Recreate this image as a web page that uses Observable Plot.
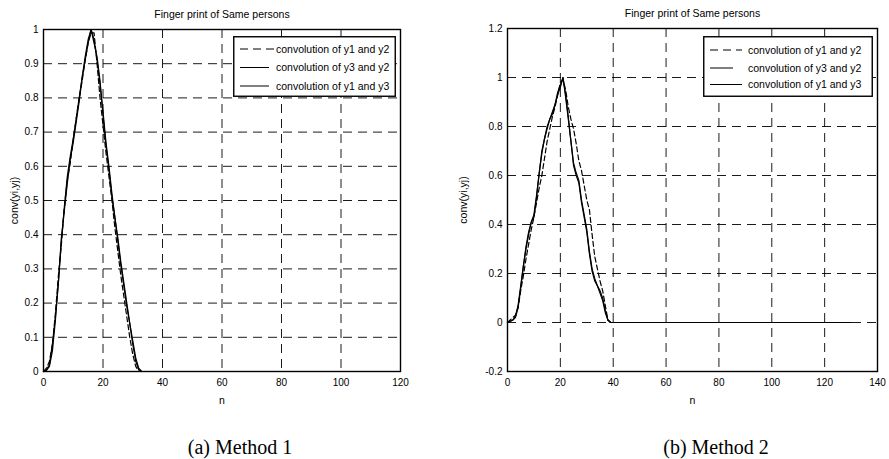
<!DOCTYPE html>
<html><head><meta charset="utf-8">
<script src="https://cdn.jsdelivr.net/npm/d3@7"></script>
<script src="https://cdn.jsdelivr.net/npm/@observablehq/plot@0.6"></script>
<style>
body{margin:0;background:#fff;}
#wrap{position:relative;width:889px;height:459px;overflow:hidden;background:#fff;}
.panel{position:absolute;top:0;}
.legend{position:absolute;}
.caption{position:absolute;font-family:"Liberation Serif","Times New Roman",serif;font-size:20px;color:#000;transform:translate(-50%,-50%);white-space:nowrap;}
</style></head>
<body><div id="wrap"></div>
<script>
// ---------- data ----------
const chartTitle = "Finger print of Same persons";
const xLabel = "n";
const yLabel = "conv(yi,yj)";
const seriesNames = ["convolution of y1 and y2", "convolution of y3 and y2", "convolution of y1 and y3"];
const captions = ["(a) Method 1", "(b) Method 2"];

// Method 1
const xTicksA = [0, 20, 40, 60, 80, 100, 120];
const yTicksA = [0, 0.1, 0.2, 0.3, 0.4, 0.5, 0.6, 0.7, 0.8, 0.9, 1];
const nA = [0,1,2,3,4,5,6,7,8,9,10,11,12,13,14,15,16,17,18,19,20,21,22,23,24,25,26,27,28,29,30,31,32,33,115];
const a_y1y2 = [0,0.01,0.03,0.08,0.17,0.28,0.37,0.48,0.56,0.61,0.68,0.74,0.8,0.85,0.91,0.96,0.99,0.99,0.9,0.8,0.72,0.64,0.57,0.5,0.42,0.35,0.28,0.22,0.16,0.1,0.05,0.015,0,0,0];
const a_y3y2 = [0,0.005,0.02,0.08,0.16,0.26,0.39,0.47,0.55,0.62,0.67,0.73,0.79,0.86,0.92,0.97,1.0,0.96,0.92,0.85,0.75,0.66,0.59,0.51,0.45,0.38,0.31,0.25,0.19,0.14,0.08,0.03,0.005,0,0];
const a_y1y3 = [0,0.003,0.015,0.06,0.15,0.26,0.38,0.48,0.57,0.63,0.68,0.74,0.8,0.86,0.91,0.96,1.0,0.97,0.91,0.84,0.76,0.67,0.6,0.52,0.45,0.39,0.32,0.26,0.2,0.14,0.09,0.04,0.01,0,0];

// Method 2
const xTicksB = [0, 20, 40, 60, 80, 100, 120, 140];
const yTicksB = [-0.2, 0, 0.2, 0.4, 0.6, 0.8, 1, 1.2];
const nB = [0,1,2,3,4,5,6,7,8,9,10,11,12,13,14,15,16,17,18,19,20,21,22,23,24,25,26,27,28,29,30,31,32,33,34,35,36,37,38,39,130];
const b_y1y2 = [0,0.01,0.02,0.03,0.06,0.13,0.19,0.26,0.32,0.38,0.43,0.49,0.55,0.6,0.67,0.74,0.79,0.84,0.88,0.93,0.98,0.99,0.95,0.88,0.83,0.79,0.73,0.66,0.62,0.56,0.5,0.46,0.36,0.27,0.22,0.17,0.13,0.07,0.01,0,0];
const b_y3y2 = [0,0.005,0.01,0.02,0.06,0.14,0.23,0.3,0.36,0.41,0.43,0.51,0.61,0.69,0.75,0.79,0.83,0.85,0.89,0.93,0.96,1.0,0.93,0.84,0.74,0.65,0.61,0.58,0.5,0.44,0.38,0.29,0.22,0.18,0.15,0.13,0.1,0.05,0.01,0,0];
const b_y1y3 = [0,0.004,0.01,0.025,0.07,0.15,0.23,0.31,0.37,0.41,0.44,0.52,0.61,0.7,0.75,0.8,0.83,0.86,0.89,0.94,0.97,1.0,0.92,0.83,0.74,0.64,0.6,0.57,0.49,0.43,0.37,0.28,0.21,0.17,0.15,0.12,0.09,0.04,0.01,0,0];

// ---------- build ----------
const wrap = document.getElementById("wrap");
const font = '"Liberation Sans", Arial, Helvetica, sans-serif';
const dashes = ["5,3", null, null];

function rows(ns, ys) { return ns.map((n, i) => ({n, v: ys[i]})); }
const fmt = d => String(+d.toFixed(1));

function panel({left, width, marginLeft, marginRight, marginTop, xDomain, yDomain, xTicks, yTicks, series, ylabDx}) {
  const marks = [
    Plot.gridX(xTicks, {stroke: "black", strokeOpacity: 1, strokeWidth: 0.9, strokeDasharray: "9,6"}),
    Plot.gridY(yTicks, {stroke: "black", strokeOpacity: 1, strokeWidth: 0.9, strokeDasharray: "9,6"})
  ];
  series.forEach((s, i) => {
    marks.push(Plot.line(s, {x: "n", y: "v", stroke: "black", strokeWidth: 1.2, strokeDasharray: dashes[i] || undefined, curve: "linear"}));
  });
  marks.push(Plot.frame({stroke: "black", strokeWidth: 1.4}));
  marks.push(Plot.text([chartTitle], {frameAnchor: "top", lineAnchor: "middle", dy: -15, fontSize: 10.5}));
  marks.push(Plot.text([xLabel], {frameAnchor: "bottom", lineAnchor: "middle", dy: 29, fontSize: 10.5}));
  marks.push(Plot.text([yLabel], {frameAnchor: "left", textAnchor: "middle", lineAnchor: "middle", rotate: -90, dx: ylabDx, fontSize: 10.5}));
  const svg = Plot.plot({
    width, height: 410,
    marginLeft, marginRight, marginTop, marginBottom: 39,
    style: {fontFamily: font, fontSize: "10px", background: "white", color: "black", overflow: "visible"},
    x: {domain: xDomain, ticks: xTicks, tickFormat: fmt, tickSize: 0, tickPadding: 7, label: null},
    y: {domain: yDomain, ticks: yTicks, tickFormat: fmt, tickSize: 0, tickPadding: 5, label: null},
    marks
  });
  svg.classList.add("panel");
  svg.style.left = left + "px";
  wrap.appendChild(svg);
}

panel({left: 0, width: 444, marginLeft: 43, marginRight: 44, marginTop: 29,
  xDomain: [0, 120], yDomain: [0, 1], xTicks: xTicksA, yTicks: yTicksA,
  series: [rows(nA, a_y1y2), rows(nA, a_y3y2), rows(nA, a_y1y3)], ylabDx: -29});
panel({left: 444, width: 445, marginLeft: 63, marginRight: 12, marginTop: 28,
  xDomain: [0, 140], yDomain: [-0.2, 1.2], xTicks: xTicksB, yTicks: yTicksB,
  series: [rows(nB, b_y1y2), rows(nB, b_y3y2), rows(nB, b_y1y3)], ylabDx: -44});

// legends (HTML overlay)
function legend(left, top, w, h, rowsY, lineSpans, textX) {
  const s = d3.create("svg").attr("class", "legend").attr("width", w).attr("height", h)
    .style("left", left + "px").style("top", top + "px");
  s.append("rect").attr("x", 0.75).attr("y", 0.75).attr("width", w - 1.5).attr("height", h - 1.5)
    .attr("fill", "white").attr("stroke", "black").attr("stroke-width", 1.4);
  seriesNames.forEach((name, i) => {
    s.append("line").attr("x1", lineSpans[i][0]).attr("x2", lineSpans[i][1])
      .attr("y1", rowsY[i]).attr("y2", rowsY[i]).attr("stroke", "black").attr("stroke-width", 1)
      .attr("stroke-dasharray", dashes[i] ? "8,5" : null);
    s.append("text").attr("x", textX).attr("y", rowsY[i]).attr("dy", "0.35em")
      .attr("font-family", font).attr("font-size", 10.5).text(name);
  });
  wrap.appendChild(s.node());
}
legend(233, 36, 163, 61, [13, 31.5, 50], [[7, 41], [7, 36], [7, 36]], 43);
legend(703, 36, 170, 61, [14, 32, 48.5], [[7, 39], [7, 30], [7, 39]], 45);

captions.forEach((c, i) => {
  const d = document.createElement("div");
  d.className = "caption";
  d.textContent = c;
  d.style.left = (i === 0 ? 240 : 716) + "px";
  d.style.top = "447px";
  wrap.appendChild(d);
});
</script>
</body></html>
